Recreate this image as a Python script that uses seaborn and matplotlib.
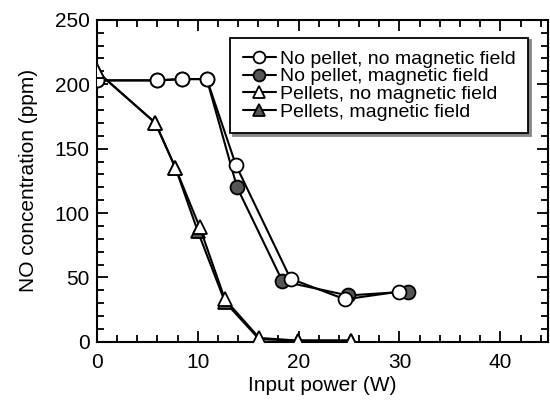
import matplotlib
matplotlib.use("Agg")
import matplotlib.pyplot as plt
import seaborn as sns
import pandas as pd
from matplotlib.ticker import MultipleLocator

sns.set_style("ticks")
plt.rcParams['font.family'] = ['Liberation Sans', 'DejaVu Sans']
plt.rcParams['text.color'] = 'black'
plt.rcParams['axes.labelcolor'] = 'black'
plt.rcParams['xtick.color'] = 'black'
plt.rcParams['ytick.color'] = 'black'

# Data
x_np_nm = [0, 6.0, 8.4, 10.9, 13.8, 19.2, 24.6, 30.0]
y_np_nm = [203, 203, 204, 204, 137, 49, 33, 39]

x_np_m = [0, 6.0, 8.4, 10.9, 13.9, 18.4, 24.9, 30.8]
y_np_m = [203, 203, 204, 204, 120, 47, 36, 39]

x_p_nm = [0, 5.8, 7.8, 10.2, 12.7, 16.1, 19.9, 25.2]
y_p_nm = [210, 170, 135, 89, 33, 3, 1, 1]

x_p_m = [0, 5.8, 7.8, 10.0, 12.7, 16.1, 19.9, 25.2]
y_p_m = [210, 170, 135, 86, 31, 2, 1, 1]

labels = ["No pellet, no magnetic field", "No pellet, magnetic field",
          "Pellets, no magnetic field", "Pellets, magnetic field"]

fig = plt.figure(figsize=(5.5, 4.05), dpi=100)
ax = fig.add_axes([0.176, 0.156, 0.82, 0.795])

grey = "#555555"
series = [
    (x_np_m, y_np_m, "o", grey, labels[1], 3),
    (x_np_nm, y_np_nm, "o", "white", labels[0], 4),
    (x_p_m, y_p_m, "^", grey, labels[3], 5),
    (x_p_nm, y_p_nm, "^", "white", labels[2], 6),
]
for xs, ys, mk, fc, lab, z in series:
    df = pd.DataFrame({"x": xs, "y": ys})
    sns.lineplot(data=df, x="x", y="y", ax=ax, color="black", lw=1.5,
                 marker=mk, markersize=10, markerfacecolor=fc,
                 markeredgecolor="black", markeredgewidth=1.3,
                 zorder=z, label=lab, estimator=None, sort=False)

h, l = ax.get_legend_handles_labels()
hd = dict(zip(l, h))
leg = ax.legend([hd[k] for k in labels], labels, loc="upper right",
                bbox_to_anchor=(0.978, 0.975), frameon=True, fancybox=False,
                shadow={'color': '#888888', 'alpha': 1.0}, edgecolor="black",
                framealpha=1, fontsize=14, handlelength=1.7, handletextpad=0.2,
                labelspacing=0.0, borderpad=0.65, markerscale=0.85)
leg.get_frame().set_linewidth(1.3)

ax.set_xlim(0, 44.7)
ax.set_ylim(0, 250)
ax.xaxis.set_major_locator(MultipleLocator(10))
ax.xaxis.set_minor_locator(MultipleLocator(2))
ax.yaxis.set_major_locator(MultipleLocator(50))
ax.yaxis.set_minor_locator(MultipleLocator(10))
ax.tick_params(which="both", direction="in", top=True, right=True,
               colors="black", width=1.3)
ax.tick_params(which="major", length=8, labelsize=15, pad=5)
ax.tick_params(axis="x", which="major", pad=8)
ax.tick_params(which="minor", length=5)
for s in ax.spines.values():
    s.set_visible(True)
    s.set_linewidth(1.5)
    s.set_color("black")

ax.set_xlabel("Input power (W)", fontsize=15, labelpad=3)
ax.set_ylabel("NO concentration (ppm)", fontsize=15, labelpad=12)

fig.savefig("out.png", dpi=100)
